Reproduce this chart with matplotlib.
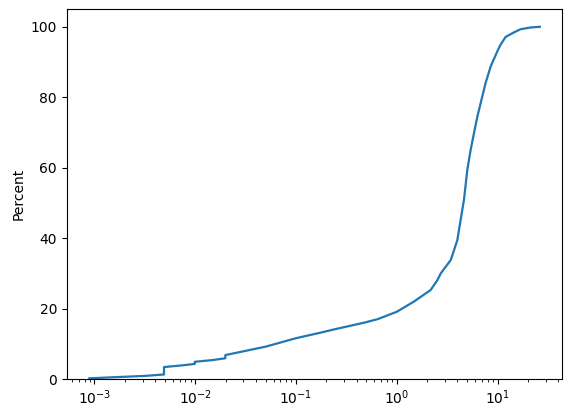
import numpy as np
import matplotlib
matplotlib.use('Agg')
import matplotlib.pyplot as plt

# cumulative percent (duplicate x = vertical jump)
x_vals = [0.00089, 0.0015, 0.0032, 0.0049, 0.0049, 0.0075, 0.0099, 0.0099,
          0.0150, 0.0199, 0.0199, 0.050, 0.100, 0.177, 0.239, 0.474, 0.645,
          1.00, 1.48, 2.17, 2.53, 2.73, 3.43, 3.70, 3.99, 4.30, 4.64, 5.01,
          5.40, 5.83, 6.30, 6.79, 7.60, 8.53, 9.93, 10.7, 12.0, 14.5, 16.9,
          21.2, 26.3]
pct_vals = [0.2, 0.5, 0.9, 1.3, 3.4, 3.9, 4.3, 4.9,
            5.4, 5.9, 6.8, 9.2, 11.6, 13.2, 14.1, 16.0, 17.0,
            19.1, 22.0, 25.3, 28.1, 30.0, 33.8, 36.6, 39.5, 45.2, 50.9, 59.4,
            65.0, 69.8, 74.5, 78.3, 84.0, 88.7, 93.0, 94.9, 97.1, 98.4, 99.3,
            99.8, 100.0]

fig, ax = plt.subplots(figsize=(5.71, 4.17), dpi=100)
fig.subplots_adjust(left=0.117, right=0.985, top=0.978, bottom=0.091)

ax.plot(x_vals, pct_vals, color='tab:blue', linewidth=1.6)
ax.set_xscale('log')
ax.set_ylim(0, 105)
ax.set_ylabel('Percent')

fig.savefig('out.png')
